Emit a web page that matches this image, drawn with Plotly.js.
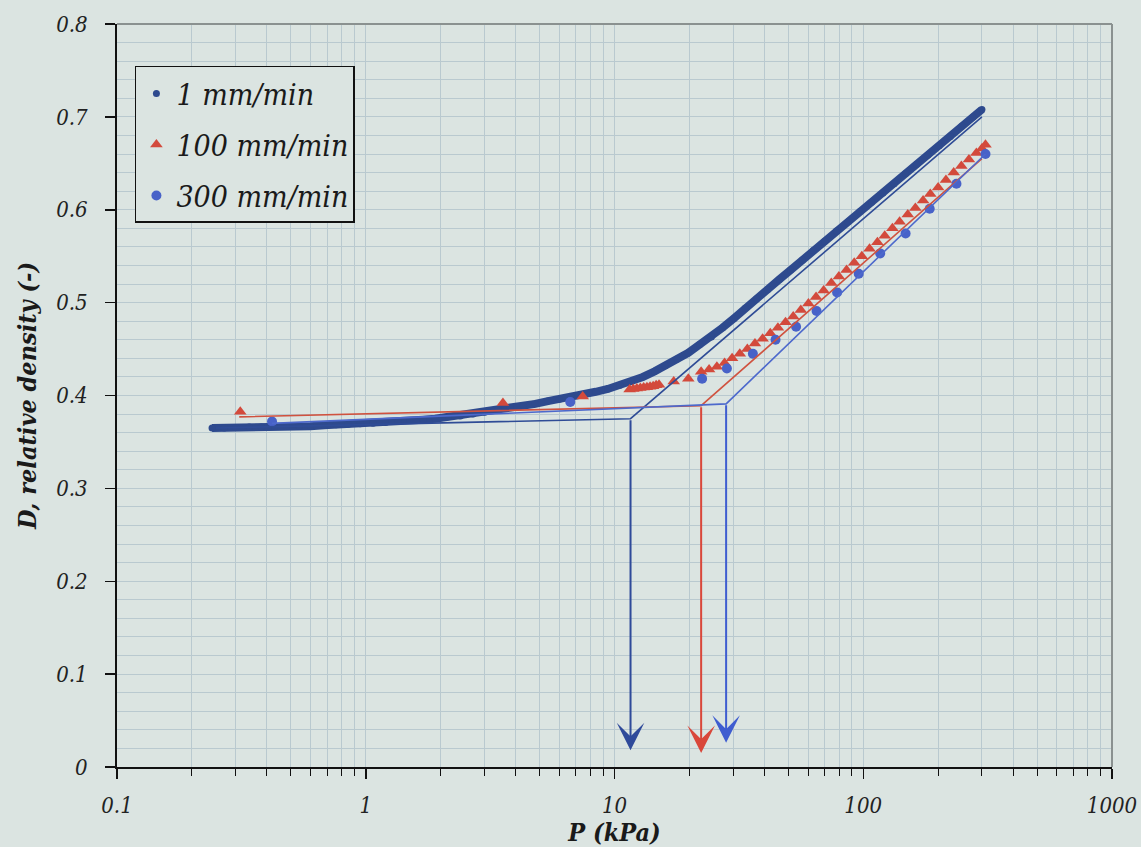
<!DOCTYPE html>
<html><head><meta charset="utf-8">
<script src="https://cdn.plot.ly/plotly-3.0.1.min.js"></script>
<style>body{margin:0;background:#dbe4e1;}</style>
</head><body>
<div id="chart" style="width:1141px;height:847px;"></div>
<script>
// ---- data ----
const seriesNames = ['1 mm/min', '100 mm/min', '300 mm/min'];

const p1 = [0.241,0.27,0.30,0.34,0.38,0.43,0.48,0.54,0.60,0.68,0.76,0.85,0.95,1.07,1.2,1.35,1.5,1.7,1.9,2.15,2.4,2.7,3.0,3.4,3.8,4.3,4.8,5.4,6.0,6.7,7.5,8.4,9.4,10.5,11.7,13.0,14.5,16.0,17.8,19.8,22.0,24.5,27.2,30.2,33.5,37.2,41.3,46,51,57,63,70,78,87,97,108,120,133,148,164,182,202,224,249,276,300];
const d1 = [0.365,0.365,0.3655,0.366,0.366,0.3665,0.3665,0.367,0.367,0.368,0.3685,0.369,0.3695,0.370,0.371,0.372,0.373,0.374,0.375,0.377,0.378,0.380,0.382,0.385,0.387,0.389,0.391,0.394,0.396,0.398,0.400,0.404,0.407,0.411,0.415,0.420,0.426,0.432,0.439,0.446,0.455,0.463,0.473,0.483,0.494,0.504,0.514,0.525,0.535,0.546,0.556,0.566,0.577,0.587,0.598,0.608,0.618,0.628,0.639,0.649,0.659,0.669,0.679,0.690,0.700,0.708];

const p100 = [0.313,3.56,7.45,11.5,11.9,12.3,12.7,13.1,13.5,13.9,14.3,14.7,15.1,17.3,19.8,22.3,24.0,25.8,27.7,29.7,31.9,34.2,36.7,39.4,42.3,45.4,48.7,52.3,56.1,60.2,64.6,69.3,74.4,79.8,85.7,92.0,98.7,106,114,122,131,140,151,162,174,186,200,215,231,248,266,285,300,310];
const d100 = [0.3825,0.392,0.399,0.4065,0.407,0.4075,0.408,0.4085,0.409,0.4095,0.410,0.411,0.4115,0.415,0.418,0.4255,0.428,0.431,0.435,0.440,0.445,0.450,0.456,0.461,0.467,0.473,0.479,0.485,0.492,0.499,0.506,0.513,0.521,0.528,0.535,0.543,0.550,0.558,0.565,0.572,0.580,0.587,0.595,0.602,0.610,0.617,0.624,0.632,0.640,0.647,0.654,0.661,0.666,0.670];

const p300 = [0.42,6.64,22.5,28.3,36.0,44.4,53.7,64.9,78.5,95.9,117,148,185,237,310];
const d300 = [0.372,0.393,0.418,0.429,0.445,0.460,0.474,0.491,0.511,0.531,0.553,0.5745,0.601,0.628,0.660];

// bilinear fit lines (start, knee, end)
const fit1P = [0.25, 11.6, 300];
const fit1D = [0.365, 0.375, 0.700];
const fit100P = [0.31, 22.3, 300];
const fit100D = [0.377, 0.389, 0.655];
const fit300P = [0.42, 28.1, 310];
const fit300D = [0.370, 0.391, 0.660];

// arrows: from knee down to tip
const kneeP = [11.6, 22.3, 28.1];
const kneeD = [0.375, 0.389, 0.391];
const tipD = [0.018, 0.015, 0.026];

const xTickVals = [0.1, 1, 10, 100, 1000];
const xTickText = ['0.1', '1', '10', '100', '1000'];
const yTickVals = [0, 0.1, 0.2, 0.3, 0.4, 0.5, 0.6, 0.7, 0.8];
const yTickText = ['0', '0.1', '0.2', '0.3', '0.4', '0.5', '0.6', '0.7', '0.8'];

// ---- styles ----
const navy = '#2e4a8e';
const red = '#d34a3c';
const blue = '#4862c8';
const bg = '#dbe4e1';
const grid = '#b9c9cf';
const serif = 'DejaVu Serif Condensed';

const traces = [
  {x: p1, y: d1, mode: 'lines', line: {color: navy, width: 8}, showlegend: false, hoverinfo: 'skip'},
  {x: p1, y: d1, mode: 'markers', name: seriesNames[0], legendgroup: 'a',
   marker: {symbol: 'circle', size: 7, color: navy}},
  {x: p100, y: d100, mode: 'markers', name: seriesNames[1], legendgroup: 'b',
   marker: {symbol: 'triangle-up', size: 11, color: red}},
  {x: p300, y: d300, mode: 'markers', name: seriesNames[2], legendgroup: 'c',
   marker: {symbol: 'circle', size: 10, color: blue}},
  {x: fit1P, y: fit1D, mode: 'lines', line: {color: '#2f4c96', width: 1.6}, showlegend: false},
  {x: fit100P, y: fit100D, mode: 'lines', line: {color: '#d0523f', width: 1.6}, showlegend: false},
  {x: fit300P, y: fit300D, mode: 'lines', line: {color: '#4d69cc', width: 1.6}, showlegend: false}
];

const arrowColors = ['#2f4a9a', '#d9473a', '#3f5dd0'];
const annotations = kneeP.map((p, i) => ({
  x: Math.log10(p), y: tipD[i], ax: Math.log10(p), ay: kneeD[i],
  xref: 'x', yref: 'y', axref: 'x', ayref: 'y',
  text: '', showarrow: true, arrowhead: 3, arrowsize: 2.3, arrowwidth: 2,
  arrowcolor: arrowColors[i], standoff: 0
}));

const layout = {
  width: 1141, height: 847,
  paper_bgcolor: bg, plot_bgcolor: bg,
  margin: {l: 117, r: 29, t: 24, b: 80},
  font: {family: serif, color: '#222'},
  showlegend: true,
  legend: {
    x: 0.018, y: 0.9435, xanchor: 'left', yanchor: 'top',
    bgcolor: bg, bordercolor: '#111', borderwidth: 1.5,
    font: {family: serif, size: 30, color: '#1a1a1a', style: 'italic'},
    traceorder: 'grouped', tracegroupgap: 9
  },
  xaxis: {
    type: 'log', range: [-1, 3], autorange: false,
    tickmode: 'array', tickvals: xTickVals, ticktext: xTickText,
    ticks: 'outside', ticklen: 10, tickwidth: 1.5, tickcolor: '#111',
    ticklabelstandoff: 8, ticklabeloverflow: 'allow',
    showline: true, linecolor: '#111', linewidth: 2,
    showgrid: true, gridcolor: grid, gridwidth: 1,
    zeroline: false,
    minor: {dtick: 'D1', ticks: 'outside', ticklen: 7, tickcolor: '#111', tickwidth: 1, showgrid: true, gridcolor: grid, gridwidth: 1},
    tickfont: {family: serif, size: 22, style: 'italic', color: '#222'},
    title: {text: 'P (kPa)', font: {family: serif, size: 25, weight: 'bold', style: 'italic', color: '#1a1a1a'}, standoff: 6}
  },
  yaxis: {
    range: [0, 0.8], autorange: false,
    tickmode: 'array', tickvals: yTickVals, ticktext: yTickText,
    ticks: 'outside', ticklen: 10, tickwidth: 1.5, tickcolor: '#111',
    ticklabelstandoff: 13,
    showline: true, linecolor: '#111', linewidth: 2,
    showgrid: true, gridcolor: grid, gridwidth: 1,
    zeroline: false,
    minor: {dtick: 0.02, ticks: '', showgrid: true, gridcolor: grid, gridwidth: 1},
    tickfont: {family: serif, size: 22, style: 'italic', color: '#222'},
    title: {text: 'D, relative density (-)', font: {family: serif, size: 25, weight: 'bold', style: 'italic', color: '#1a1a1a'}, standoff: 12}
  },
  shapes: [
    {type: 'line', xref: 'paper', yref: 'paper', x0: 0, x1: 1, y0: 1, y1: 1, line: {color: '#8a9190', width: 2}},
    {type: 'line', xref: 'paper', yref: 'paper', x0: 1, x1: 1, y0: 0, y1: 1, line: {color: '#8a9190', width: 2}}
  ],
  annotations: annotations
};

Plotly.newPlot('chart', traces, layout, {displayModeBar: false, staticPlot: true});
</script>
</body></html>
